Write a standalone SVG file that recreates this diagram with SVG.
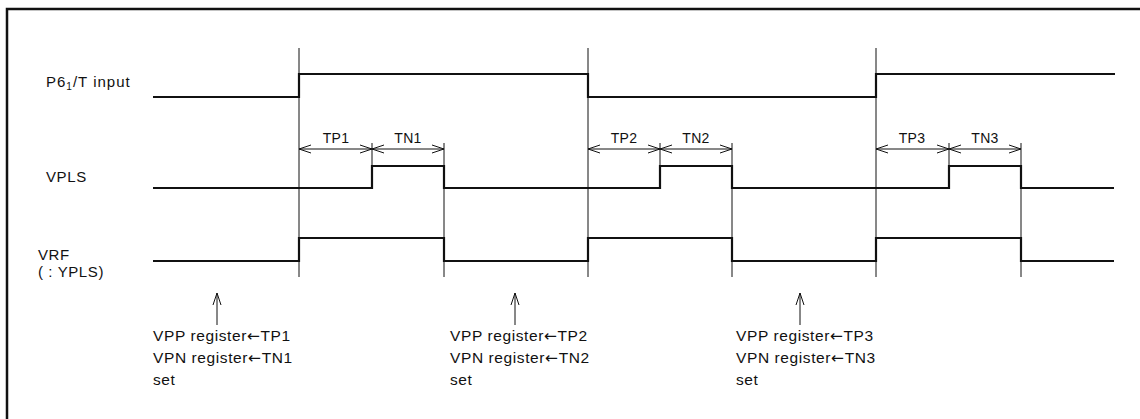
<svg xmlns="http://www.w3.org/2000/svg" width="1140" height="419" viewBox="0 0 1140 419">
<style>
text{font-family:"Liberation Sans",Arial,sans-serif;fill:#111}
.lbl{font-size:15px;letter-spacing:0.6px}
.note{font-size:15.5px;letter-spacing:0.6px}
.dim{font-size:14px;text-anchor:middle;letter-spacing:0.3px}
.arr{font-family:"DejaVu Sans",sans-serif}
.sig{fill:none;stroke:#111;stroke-width:2.2;stroke-linejoin:miter}
.thin{fill:none;stroke:#111;stroke-width:1}
.frame{fill:none;stroke:#111;stroke-width:2.5}
</style>
<defs>
<marker id="ah" viewBox="0 0 12 10" refX="12" refY="5" markerWidth="12" markerHeight="10" markerUnits="userSpaceOnUse" orient="auto-start-reverse">
<path d="M0,1 L12,5 L0,9" fill="none" stroke="#111" stroke-width="1"/>
</marker>
</defs>
<path class="frame" d="M7,419 V9 H1140"/>
<g id="labels">
<text class="lbl" x="46" y="87" style="letter-spacing:1px">P6<tspan font-size="10" dy="3">1</tspan><tspan dy="-3">/T input</tspan></text>
<text class="lbl" x="46" y="182">VPLS</text>
<text class="lbl" x="38" y="260">VRF</text>
<text class="lbl" x="38" y="277">( : YPLS)</text>
</g>
<g id="signals">
<path id="p6" class="sig" d="M153,97 H299 V74 H588 V97 H876 V74 H1115"/>
<path id="vpls" class="sig" d="M153,188 H372 V166 H444 V188 H660 V166 H732 V188 H949 V166 H1021 V188 H1114"/>
<path id="vrf" class="sig" d="M153,261 H299 V238 H444 V261 H588 V238 H732 V261 H876 V238 H1021 V261 H1114"/>
</g>
<g id="guides" class="thin">
<path d="M299,48 V277 M588,48 V277 M876,48 V277"/>
<path d="M444,143 V277 M732,143 V277 M1021,143 V277"/>
<path d="M372,143 V166 M660,143 V166 M949,143 V166"/>
</g>
<g id="connectors">
<line class="thin" x1="299" y1="149" x2="372" y2="149" marker-start="url(#ah)" marker-end="url(#ah)"/>
<line class="thin" x1="372" y1="149" x2="444" y2="149" marker-start="url(#ah)" marker-end="url(#ah)"/>
<line class="thin" x1="588" y1="149" x2="660" y2="149" marker-start="url(#ah)" marker-end="url(#ah)"/>
<line class="thin" x1="660" y1="149" x2="732" y2="149" marker-start="url(#ah)" marker-end="url(#ah)"/>
<line class="thin" x1="876" y1="149" x2="949" y2="149" marker-start="url(#ah)" marker-end="url(#ah)"/>
<line class="thin" x1="949" y1="149" x2="1021" y2="149" marker-start="url(#ah)" marker-end="url(#ah)"/>
<line class="thin" x1="217" y1="325" x2="217" y2="293" marker-end="url(#ah)"/>
<line class="thin" x1="515" y1="325" x2="515" y2="293" marker-end="url(#ah)"/>
<line class="thin" x1="800" y1="325" x2="800" y2="293" marker-end="url(#ah)"/>
</g>
<g id="dimlabels">
<text class="dim" x="336" y="143">TP1</text>
<text class="dim" x="408" y="143">TN1</text>
<text class="dim" x="624" y="143">TP2</text>
<text class="dim" x="696" y="143">TN2</text>
<text class="dim" x="912" y="143">TP3</text>
<text class="dim" x="985" y="143">TN3</text>
</g>
<g id="note1">
<text class="note" x="153" y="341">VPP register<tspan class="arr">←</tspan>TP1</text>
<text class="note" x="153" y="363">VPN register<tspan class="arr">←</tspan>TN1</text>
<text class="note" x="153" y="385">set</text>
</g>
<g id="note2">
<text class="note" x="450" y="341">VPP register<tspan class="arr">←</tspan>TP2</text>
<text class="note" x="450" y="363">VPN register<tspan class="arr">←</tspan>TN2</text>
<text class="note" x="450" y="385">set</text>
</g>
<g id="note3">
<text class="note" x="736" y="341">VPP register<tspan class="arr">←</tspan>TP3</text>
<text class="note" x="736" y="363">VPN register<tspan class="arr">←</tspan>TN3</text>
<text class="note" x="736" y="385">set</text>
</g>
</svg>
